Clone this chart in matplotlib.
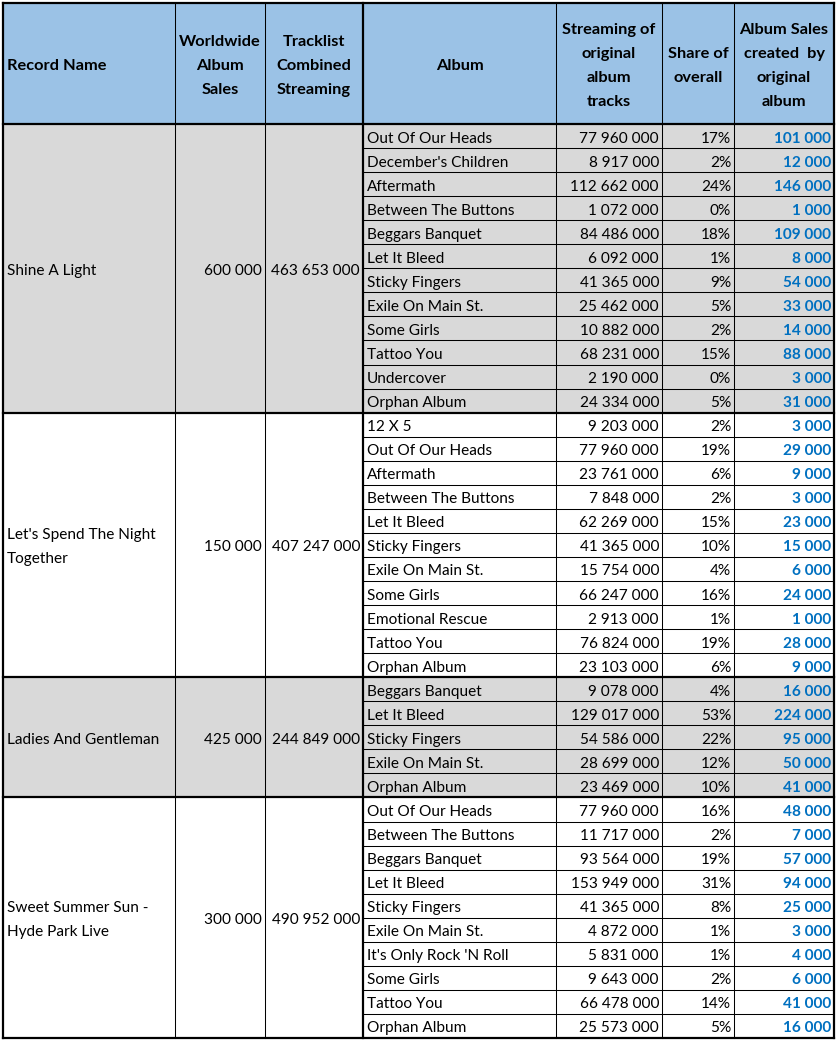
import matplotlib
matplotlib.use("Agg")
import matplotlib.pyplot as plt
from matplotlib.patches import Rectangle

# ---------------- data ----------------
headers = ["Record Name", "Worldwide\nAlbum\nSales", "Tracklist\nCombined\nStreaming", "Album",
           "Streaming of\noriginal\nalbum\ntracks", "Share of\noverall", "Album Sales\ncreated  by\noriginal\nalbum"]

record_names = ["Shine A Light", "Let's Spend The Night\nTogether", "Ladies And Gentleman",
                "Sweet Summer Sun -\nHyde Park Live"]
worldwide_sales = ["600 000", "150 000", "425 000", "300 000"]
combined_streaming = ["463 653 000", "407 247 000", "244 849 000", "490 952 000"]

albums_1 = ["Out Of Our Heads", "December's Children", "Aftermath", "Between The Buttons",
            "Beggars Banquet", "Let It Bleed", "Sticky Fingers", "Exile On Main St.",
            "Some Girls", "Tattoo You", "Undercover", "Orphan Album"]
streams_1 = ["77 960 000", "8 917 000", "112 662 000", "1 072 000", "84 486 000", "6 092 000",
             "41 365 000", "25 462 000", "10 882 000", "68 231 000", "2 190 000", "24 334 000"]
share_1 = ["17%", "2%", "24%", "0%", "18%", "1%", "9%", "5%", "2%", "15%", "0%", "5%"]
sales_1 = ["101 000", "12 000", "146 000", "1 000", "109 000", "8 000", "54 000", "33 000",
           "14 000", "88 000", "3 000", "31 000"]

albums_2 = ["12 X 5", "Out Of Our Heads", "Aftermath", "Between The Buttons", "Let It Bleed",
            "Sticky Fingers", "Exile On Main St.", "Some Girls", "Emotional Rescue",
            "Tattoo You", "Orphan Album"]
streams_2 = ["9 203 000", "77 960 000", "23 761 000", "7 848 000", "62 269 000", "41 365 000",
             "15 754 000", "66 247 000", "2 913 000", "76 824 000", "23 103 000"]
share_2 = ["2%", "19%", "6%", "2%", "15%", "10%", "4%", "16%", "1%", "19%", "6%"]
sales_2 = ["3 000", "29 000", "9 000", "3 000", "23 000", "15 000", "6 000", "24 000",
           "1 000", "28 000", "9 000"]

albums_3 = ["Beggars Banquet", "Let It Bleed", "Sticky Fingers", "Exile On Main St.", "Orphan Album"]
streams_3 = ["9 078 000", "129 017 000", "54 586 000", "28 699 000", "23 469 000"]
share_3 = ["4%", "53%", "22%", "12%", "10%"]
sales_3 = ["16 000", "224 000", "95 000", "50 000", "41 000"]

albums_4 = ["Out Of Our Heads", "Between The Buttons", "Beggars Banquet", "Let It Bleed",
            "Sticky Fingers", "Exile On Main St.", "It's Only Rock 'N Roll", "Some Girls",
            "Tattoo You", "Orphan Album"]
streams_4 = ["77 960 000", "11 717 000", "93 564 000", "153 949 000", "41 365 000",
             "4 872 000", "5 831 000", "9 643 000", "66 478 000", "25 573 000"]
share_4 = ["16%", "2%", "19%", "31%", "8%", "1%", "1%", "2%", "14%", "5%"]
sales_4 = ["48 000", "7 000", "57 000", "94 000", "25 000", "3 000", "4 000", "6 000",
           "41 000", "16 000"]

groups = [
    (albums_1, streams_1, share_1, sales_1),
    (albums_2, streams_2, share_2, sales_2),
    (albums_3, streams_3, share_3, sales_3),
    (albums_4, streams_4, share_4, sales_4),
]
group_fill = ["#D9D9D9", "#FFFFFF", "#D9D9D9", "#FFFFFF"]

# ---------------- layout ----------------
W, H = 836, 1041
col_x = [3, 175, 265, 363, 556, 662, 734, 834]
head_top, head_bot = 3, 124
table_bot = 1038
n_rows = sum(len(g[0]) for g in groups)
row_h = (table_bot - head_bot) / n_rows

HEAD_BLUE = "#9BC2E6"
BLUE = "#0070C0"
FONT = ["Lato", "DejaVu Sans"]
FS = 11.1
FS_H = 11.8
DY = 2.5

fig = plt.figure(figsize=(W / 100, H / 100), dpi=100)
ax = fig.add_axes([0, 0, 1, 1])
ax.set_xlim(0, W)
ax.set_ylim(H, 0)
ax.axis("off")

THIN = 0.75
THICK = 1.6

# header
ax.add_patch(Rectangle((col_x[0], head_top), col_x[-1] - col_x[0], head_bot - head_top,
                       facecolor=HEAD_BLUE, edgecolor="none", zorder=0))
line_gap = 24
for i, htxt in enumerate(headers):
    lines = htxt.split("\n")
    n = len(lines)
    cy = (head_top + head_bot) / 2 + DY
    for j, ln in enumerate(lines):
        y = cy + (j - (n - 1) / 2) * line_gap
        if i == 0:
            ax.text(col_x[0] + 4, y, ln, ha="left", va="center", fontsize=FS_H,
                    fontweight="bold", family=FONT)
        else:
            xc = (col_x[i] + col_x[i + 1]) / 2
            ax.text(xc, y, ln, ha="center", va="center", fontsize=FS_H,
                    fontweight="bold", family=FONT)

# body
r = 0
group_bounds = [head_bot]
for gi, (albs, strs, shs, sls) in enumerate(groups):
    g_top = head_bot + r * row_h
    g_bot = head_bot + (r + len(albs)) * row_h
    ax.add_patch(Rectangle((col_x[0], g_top), col_x[-1] - col_x[0], g_bot - g_top,
                           facecolor=group_fill[gi], edgecolor="none", zorder=0))
    lines = record_names[gi].split("\n")
    cy = (g_top + g_bot) / 2
    for j, ln in enumerate(lines):
        y = cy + (j - (len(lines) - 1) / 2) * line_gap + DY
        ax.text(col_x[0] + 4, y, ln, ha="left", va="center", fontsize=FS, family=FONT)
    ax.text(col_x[2] - 3, cy + DY, worldwide_sales[gi], ha="right", va="center",
            fontsize=FS, family=FONT)
    ax.text(col_x[3] - 3, cy + DY, combined_streaming[gi], ha="right", va="center",
            fontsize=FS, family=FONT)
    for k in range(len(albs)):
        y0 = head_bot + (r + k) * row_h
        yc = y0 + row_h / 2 + DY
        ax.text(col_x[3] + 4, yc, albs[k], ha="left", va="center", fontsize=FS, family=FONT)
        ax.text(col_x[5] - 3, yc, strs[k], ha="right", va="center", fontsize=FS, family=FONT)
        ax.text(col_x[6] - 3, yc, shs[k], ha="right", va="center", fontsize=FS, family=FONT)
        ax.text(col_x[7] - 3, yc, sls[k], ha="right", va="center", fontsize=FS,
                family=FONT, fontweight="bold", color=BLUE)
        if k > 0:
            ax.plot([col_x[3], col_x[-1]], [y0, y0], color="black", lw=THIN, zorder=2,
                    solid_capstyle="butt")
    r += len(albs)
    group_bounds.append(g_bot)

# vertical lines
for i, x in enumerate(col_x):
    lw = THICK if i in (0, 3, 7) else THIN
    ax.plot([x, x], [head_top, table_bot], color="black", lw=lw, zorder=3,
            solid_capstyle="projecting")

# horizontal thick lines
for y in [head_top] + group_bounds:
    ax.plot([col_x[0], col_x[-1]], [y, y], color="black", lw=THICK, zorder=3,
            solid_capstyle="projecting")

fig.savefig("out.png", dpi=100, facecolor="white")
